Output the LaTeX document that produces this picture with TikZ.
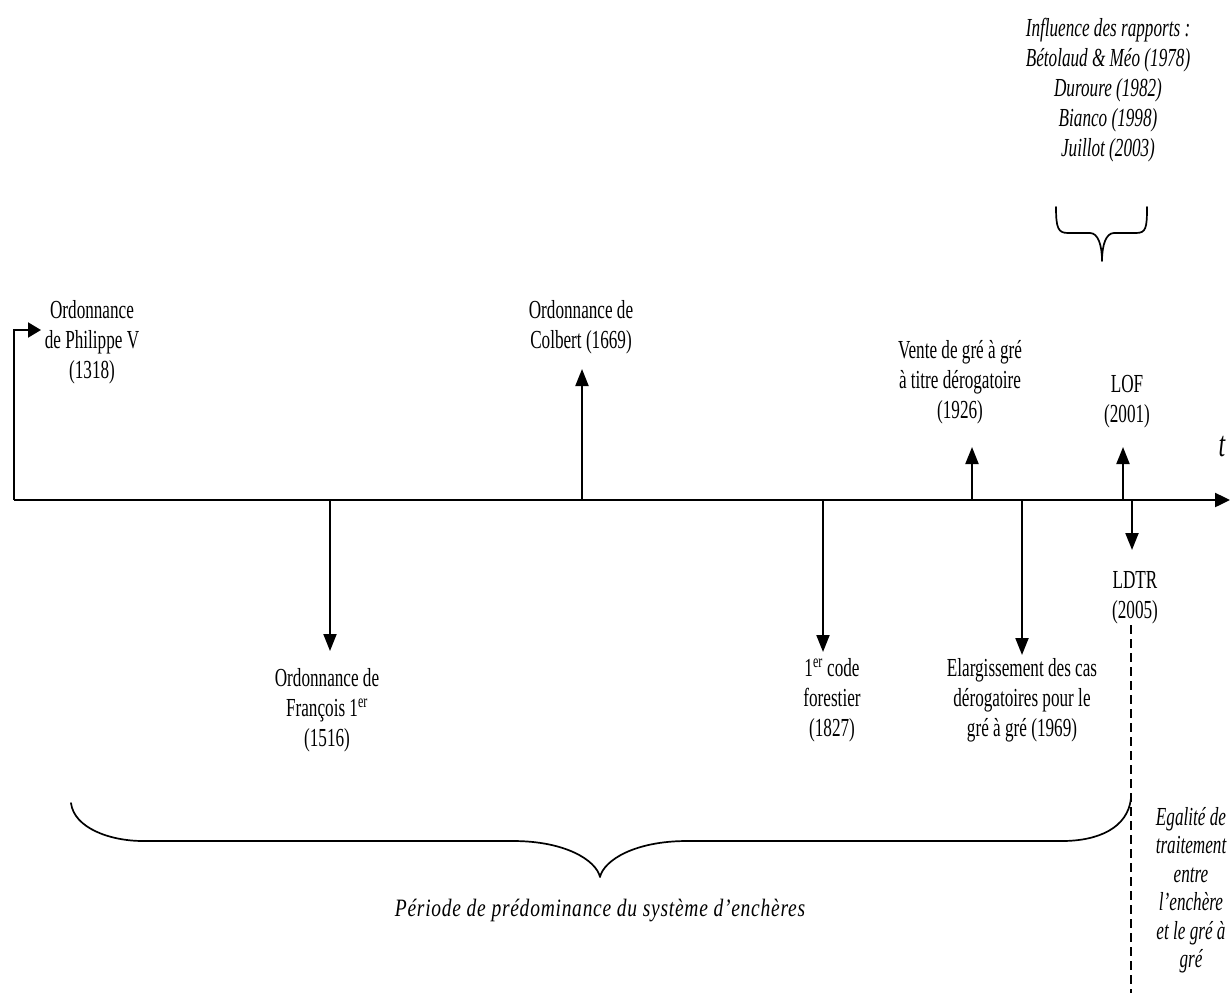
\documentclass[tikz,border=0pt]{standalone}
\usepackage{fontspec}
\setmainfont{Liberation Serif}[FakeStretch=0.66]
\newfontfamily\wideserif{Liberation Serif}[FakeStretch=0.78,LetterSpace=3]
\usetikzlibrary{arrows.meta}
\begin{document}
\begin{tikzpicture}[x=1pt,y=-1pt,
  lbl/.style={align=center,font=\fontsize{26}{30}\selectfont,inner sep=0pt},
  ilbl/.style={align=center,font=\fontsize{26}{30}\selectfont\itshape,inner sep=0pt},
  wlbl/.style={align=center,font=\wideserif\fontsize{25}{28.5}\selectfont\itshape,inner sep=0pt},
  axisline/.style={line width=2.4pt,-{Triangle[length=15pt,width=14pt]}},
  evt/.style={line width=2pt,-{Triangle[length=17pt,width=13pt]}},
  bracestyle/.style={line width=1.7pt,line cap=round,line join=round},
  dashedline/.style={line width=1.4pt,dash pattern=on 9pt off 5pt}]
\useasboundingbox (0,0) rectangle (1230,993);

% time axis
\coordinate (o) at (14,500);
\coordinate (tend) at (1230,500);
\draw[axisline] (o) -- (tend);
\node[font=\fontsize{36}{36}\selectfont\itshape,inner sep=0pt] (t) at (1222,447) {t};

% event labels
\node[lbl] (phil) at (92,342) {Ordonnance\\de Philippe V\\(1318)};
\node[lbl] (franc) at (327,710) {Ordonnance de\\François 1\textsuperscript{er}\\(1516)};
\node[lbl] (colb) at (581,327) {Ordonnance de\\Colbert (1669)};
\node[lbl] (code) at (832,700) {1\textsuperscript{er} code\\forestier\\(1827)};
\node[lbl] (vente) at (960,382) {Vente de gré à gré\\à titre dérogatoire\\(1926)};
\node[lbl] (elarg) at (1022,700) {Elargissement des cas\\dérogatoires pour le\\gré à gré (1969)};
\node[lbl] (lof) at (1127,402) {LOF\\(2001)};
\node[lbl] (ldtr) at (1135,598) {LDTR\\(2005)};

% points on the axis
\coordinate (a1516) at (330,500);
\coordinate (a1669) at (582,500);
\coordinate (a1827) at (823,500);
\coordinate (a1926) at (972,500);
\coordinate (a1969) at (1022,500);
\coordinate (a2001) at (1123,500);
\coordinate (a2005) at (1132,500);

% arrow tips
\coordinate (p1318) at (41,330);
\coordinate (t1516) at (330,651);
\coordinate (t1669) at (582,369);
\coordinate (t1827) at (823,652);
\coordinate (t1926) at (972,447);
\coordinate (t1969) at (1022,655);
\coordinate (t2001) at (1123,447);
\coordinate (t2005) at (1132,550);

% event arrows
\draw[evt,-{Triangle[length=13pt,width=15pt]}] (o) |- (p1318);
\draw[evt] (a1516) -- (t1516);
\draw[evt] (a1669) -- (t1669);
\draw[evt] (a1827) -- (t1827);
\draw[evt] (a1926) -- (t1926);
\draw[evt] (a1969) -- (t1969);
\draw[evt] (a2001) -- (t2001);
\draw[evt] (a2005) -- (t2005);

% dashed separator below LDTR
\coordinate (d0) at (1131,625);
\coordinate (d1) at (1131,993);
\draw[dashedline] (d0) -- (d1);

% reports and their brace
\node[ilbl] (rapports) at (1108,90) {Influence des rapports :\\Bétolaud \& Méo (1978)\\Duroure (1982)\\Bianco (1998)\\Juillot (2003)};
\coordinate (rb1) at (1056,207);
\coordinate (rbt) at (1102,261);
\coordinate (rb2) at (1147,207);
\draw[bracestyle] (rb1) .. controls (1056,228) and (1058,233) .. (1068,233)
  -- (1090,233) .. controls (1098,233) and (1102,245) .. (rbt)
  .. controls (1102,245) and (1106,233) .. (1114,233)
  -- (1136,233) .. controls (1146,233) and (1147,228) .. (rb2);

% period brace
\coordinate (pb1) at (71,803);
\coordinate (pbt) at (600,877);
\coordinate (pb2) at (1131,798);
\draw[bracestyle] (pb1) .. controls (74,828) and (110,841) .. (143,841)
  -- (513,841) .. controls (565,841) and (596,860) .. (pbt)
  .. controls (604,860) and (635,841) .. (687,841)
  -- (1062,841) .. controls (1098,841) and (1128,828) .. (pb2);
\node[wlbl] (periode) at (600,910) {Période de prédominance du système d’enchères};

% equal treatment note
\node[ilbl,font=\fontsize{26}{28.5}\selectfont\itshape] (egal) at (1191,890) {Egalité de\\traitement\\entre\\l’enchère\\et le gré à\\gré};
\end{tikzpicture}
\end{document}
